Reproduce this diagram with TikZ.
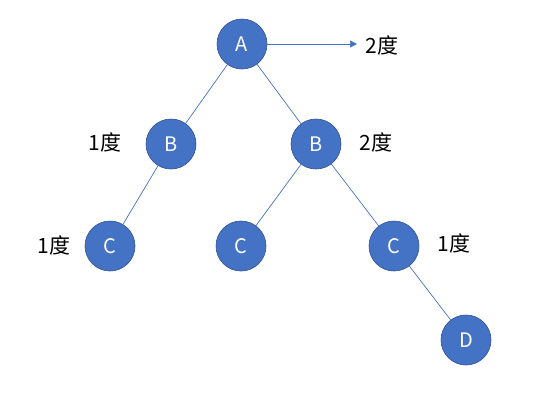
\documentclass[tikz,border=0pt]{standalone}
\usepackage{fontspec}
\setmainfont{Noto Sans CJK SC}
\usetikzlibrary{arrows.meta}
\definecolor{nodefill}{HTML}{4472C4}
\definecolor{nodeedge}{HTML}{2F528F}
\begin{document}
\begin{tikzpicture}[x=1pt,y=-1pt,
  vert/.style={circle,fill=nodefill,draw=nodeedge,line width=0.6pt,minimum size=50pt,inner sep=0pt,text=white,font=\fontsize{20}{22}\selectfont},
  lbl/.style={font=\fontsize{21}{23}\selectfont,text=black,inner sep=0pt},
  edge/.style={draw=nodefill,line width=0.7pt}]
\useasboundingbox (0,0) rectangle (560,405);
\node[vert] (A) at (242,44) {A};
\node[vert] (B1) at (171,144) {B};
\node[vert] (B2) at (316,144) {B};
\node[vert] (C1) at (110,246) {C};
\node[vert] (C2) at (241,246) {C};
\node[vert] (C3) at (394,246) {C};
\node[vert] (D) at (466,340) {D};
\coordinate (E) at (357,44);
\node[lbl] (l0) at (382,45) {2度};
\node[lbl] (l1) at (105,142) {1度};
\node[lbl] (l2) at (376,142) {2度};
\node[lbl] (l3) at (54,245) {1度};
\node[lbl] (l4) at (454,243) {1度};
\draw[edge] (A) -- (B1);
\draw[edge] (A) -- (B2);
\draw[edge] (B1) -- (C1);
\draw[edge] (B2) -- (C2);
\draw[edge] (B2) -- (C3);
\draw[edge] (C3) -- (D);
\draw[edge,-{Triangle[length=7pt,width=7pt]}] (A) -- (E);
\end{tikzpicture}
\end{document}
